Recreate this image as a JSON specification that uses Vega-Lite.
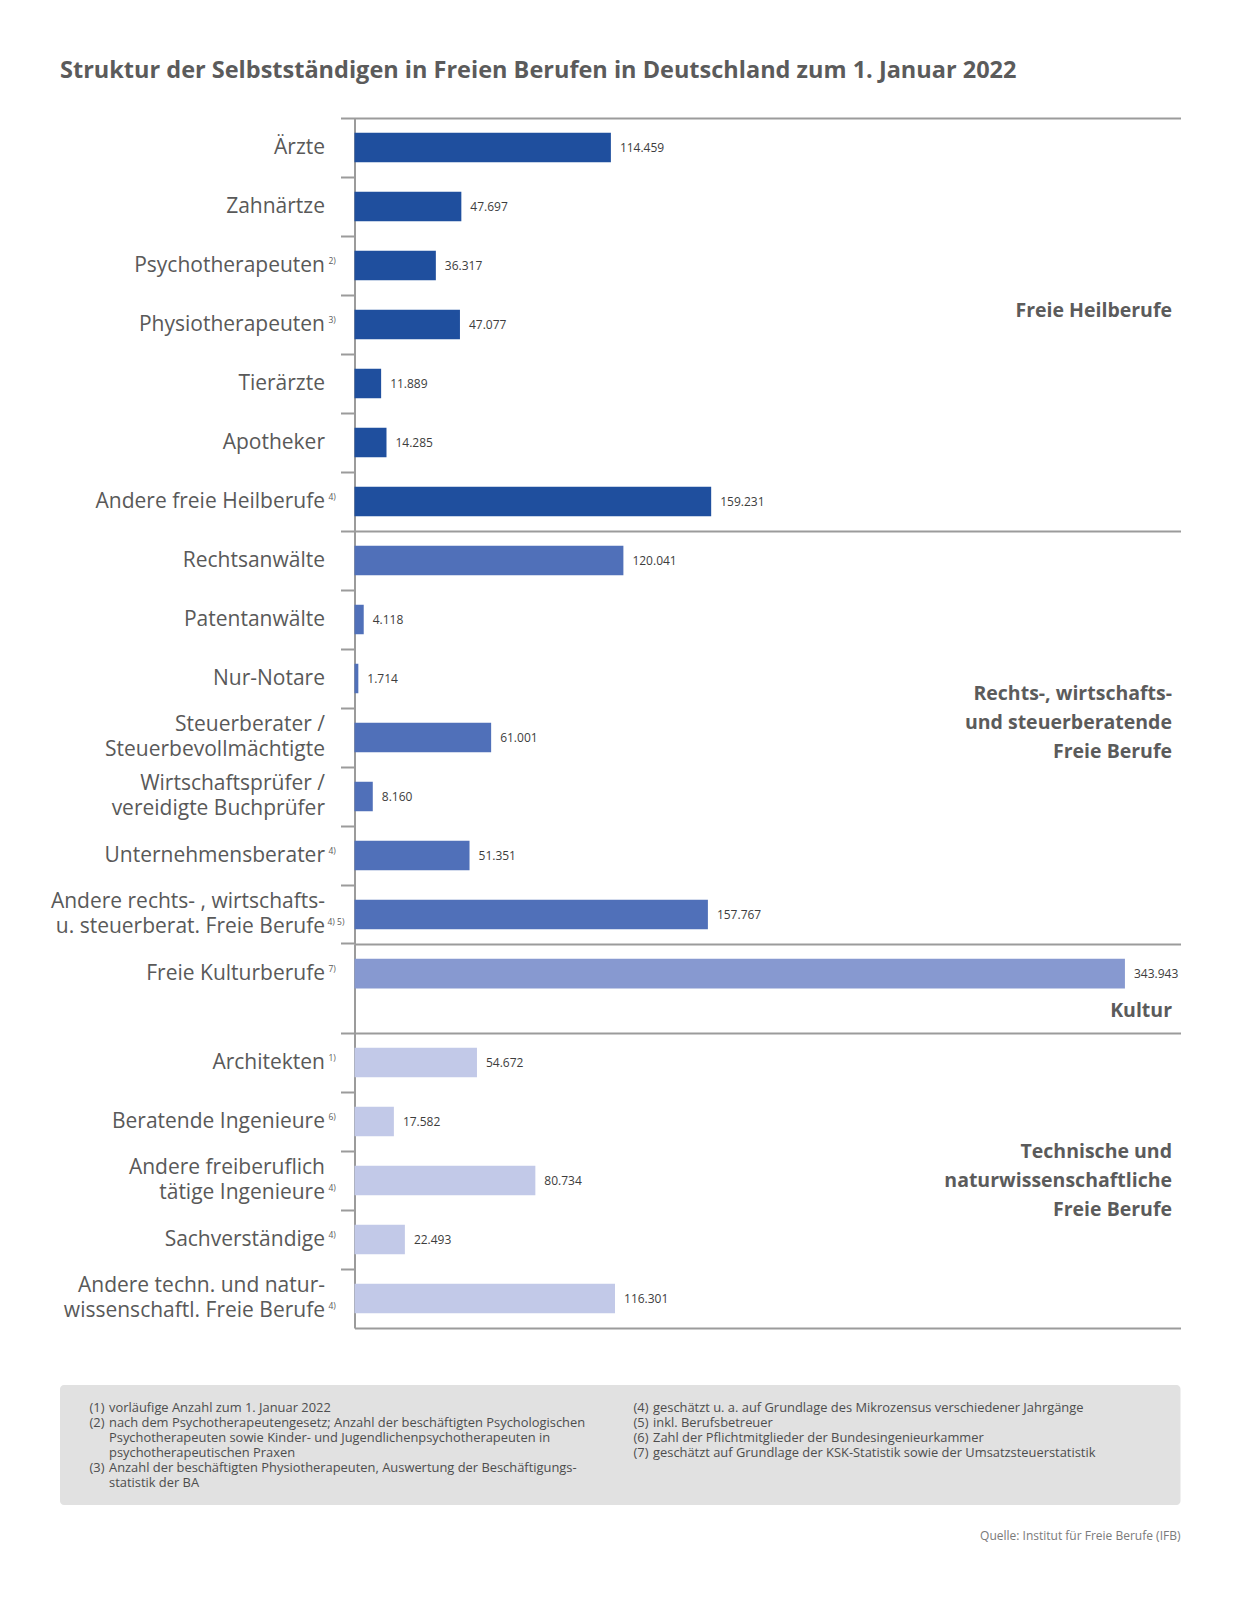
{
  "$schema": "https://vega.github.io/schema/vega-lite/v6.json",
  "padding": {"left": 50, "top": 58, "right": 20, "bottom": 20},
  "background": "white",
  "config": {
    "font": "Open Sans",
    "locale": {"number": {"decimal": ",", "thousands": ".", "grouping": [3], "currency": ["", " €"]}},
    "view": {"stroke": null},
    "axisX": {"domainColor": "#9b9b9b", "domainWidth": 2, "ticks": false, "labels": false, "grid": false}
  },
  "title": {"text": "Struktur der Selbstständigen in Freien Berufen in Deutschland zum 1. Januar 2022", "anchor": "start", "frame": "group", "font": "Open Sans", "fontSize": 23.5, "fontWeight": "bold", "color": "#5b5b5b", "offset": 35},
  "datasets": {
    "berufe": [
      {"gruppe": "Heil", "beruf": "Ärzte", "wert": 114459, "fn": "", "gruppenlabel": ""},
      {"gruppe": "Heil", "beruf": "Zahnärtze", "wert": 47697, "fn": "", "gruppenlabel": ""},
      {"gruppe": "Heil", "beruf": "Psychotherapeuten", "wert": 36317, "fn": "2)", "gruppenlabel": ""},
      {"gruppe": "Heil", "beruf": "Physiotherapeuten", "wert": 47077, "fn": "3)", "gruppenlabel": "Freie Heilberufe"},
      {"gruppe": "Heil", "beruf": "Tierärzte", "wert": 11889, "fn": "", "gruppenlabel": ""},
      {"gruppe": "Heil", "beruf": "Apotheker", "wert": 14285, "fn": "", "gruppenlabel": ""},
      {"gruppe": "Heil", "beruf": "Andere freie Heilberufe", "wert": 159231, "fn": "4)", "gruppenlabel": ""},
      {"gruppe": "Rechts", "beruf": "Rechtsanwälte", "wert": 120041, "fn": "", "gruppenlabel": ""},
      {"gruppe": "Rechts", "beruf": "Patentanwälte", "wert": 4118, "fn": "", "gruppenlabel": ""},
      {"gruppe": "Rechts", "beruf": "Nur-Notare", "wert": 1714, "fn": "", "gruppenlabel": ""},
      {"gruppe": "Rechts", "beruf": "Steuerberater /|Steuerbevollmächtigte", "wert": 61001, "fn": "", "gruppenlabel": "Rechts-, wirtschafts-|und steuerberatende|Freie Berufe"},
      {"gruppe": "Rechts", "beruf": "Wirtschaftsprüfer /|vereidigte Buchprüfer", "wert": 8160, "fn": "", "gruppenlabel": ""},
      {"gruppe": "Rechts", "beruf": "Unternehmensberater", "wert": 51351, "fn": "4)", "gruppenlabel": ""},
      {"gruppe": "Rechts", "beruf": "Andere rechts- , wirtschafts-|u. steuerberat. Freie Berufe", "wert": 157767, "fn": "4) 5)", "gruppenlabel": ""},
      {"gruppe": "Kultur", "beruf": "Freie Kulturberufe", "wert": 343943, "fn": "7)", "gruppenlabel": "Kultur"},
      {"gruppe": "Technik", "beruf": "Architekten", "wert": 54672, "fn": "1)", "gruppenlabel": ""},
      {"gruppe": "Technik", "beruf": "Beratende Ingenieure", "wert": 17582, "fn": "6)", "gruppenlabel": ""},
      {"gruppe": "Technik", "beruf": "Andere freiberuflich|tätige Ingenieure", "wert": 80734, "fn": "4)", "gruppenlabel": "Technische und|naturwissenschaftliche|Freie Berufe"},
      {"gruppe": "Technik", "beruf": "Sachverständige", "wert": 22493, "fn": "4)", "gruppenlabel": ""},
      {"gruppe": "Technik", "beruf": "Andere techn. und natur-|wissenschaftl. Freie Berufe", "wert": 116301, "fn": "4)", "gruppenlabel": ""}
    ],
    "fussnoten": [
      {"spalte": "L", "zeile": 1, "nr": "(1)", "text": "vorläufige Anzahl zum 1. Januar 2022"},
      {"spalte": "L", "zeile": 2, "nr": "(2)", "text": "nach dem Psychotherapeutengesetz; Anzahl der beschäftigten Psychologischen"},
      {"spalte": "L", "zeile": 3, "nr": "", "text": "Psychotherapeuten sowie Kinder- und Jugendlichenpsychotherapeuten in"},
      {"spalte": "L", "zeile": 4, "nr": "", "text": "psychotherapeutischen Praxen"},
      {"spalte": "L", "zeile": 5, "nr": "(3)", "text": "Anzahl der beschäftigten Physiotherapeuten, Auswertung der Beschäftigungs-"},
      {"spalte": "L", "zeile": 6, "nr": "", "text": "statistik der BA"},
      {"spalte": "R", "zeile": 1, "nr": "(4)", "text": "geschätzt u. a. auf Grundlage des Mikrozensus verschiedener Jahrgänge"},
      {"spalte": "R", "zeile": 2, "nr": "(5)", "text": "inkl. Berufsbetreuer"},
      {"spalte": "R", "zeile": 3, "nr": "(6)", "text": "Zahl der Pflichtmitglieder der Bundesingenieurkammer"},
      {"spalte": "R", "zeile": 4, "nr": "(7)", "text": "geschätzt auf Grundlage der KSK-Statistik sowie der Umsatzsteuerstatistik"}
    ]
  },
  "spacing": 57,
  "vconcat": [
    {
      "spacing": 0,
      "bounds": "flush",
      "vconcat": [
        {
          "width": 1120.5, "height": 413,
          "data": {"name": "berufe"},
          "transform": [{"filter": "datum.gruppe === 'Heil'"}],
          "encoding": {
            "y": {"field": "beruf", "type": "nominal", "sort": null, "title": null,
              "scale": {"paddingInner": 0.5, "paddingOuter": 0.25, "align": 0.5},
              "axis": {"domain": true, "domainColor": "#9b9b9b", "domainWidth": 2, "ticks": true, "tickColor": "#9b9b9b", "tickWidth": 2, "tickSize": 14, "bandPosition": -0.5, "offset": -294.5, "labelPadding": 16, "labelFontSize": 21, "labelColor": "#595959", "labelFont": "Open Sans", "labelLimit": 400, "labelLineHeight": 25, "labelExpr": "split(datum.label, '|')", "labelOffset": {"condition": {"test": "indexof(datum.value, '|') >= 0", "value": -12.5}, "value": 0}, "grid": false}},
            "x": {"field": "wert", "type": "quantitative", "title": null,
              "scale": {"domain": [0, 368750], "range": [294.5, 1120.5], "nice": false, "zero": true},
              "axis": {"orient": "top"}}
          },
          "layer": [
            {"mark": {"type": "bar", "color": "#1f4f9e"}},
            {"mark": {"type": "text", "align": "left", "baseline": "middle", "dx": 9, "fontSize": 12, "color": "#3d3d3d"}, "encoding": {"text": {"field": "wert", "format": ",d"}}},
            {"transform": [{"filter": "datum.fn !== '' && indexof(datum.beruf, '|') < 0"}], "mark": {"type": "text", "align": "left", "baseline": "middle", "dx": -26, "dy": -5, "fontSize": 8.5, "color": "#595959"}, "encoding": {"x": {"datum": 0}, "text": {"field": "fn"}}},
            {"transform": [{"filter": "datum.gruppenlabel !== ''"}], "mark": {"type": "text", "align": "right", "baseline": "middle", "dx": -8.5, "dy": -14, "fontSize": 19.5, "fontWeight": "bold", "color": "#5b5b5b", "lineBreak": "|", "lineHeight": 29}, "encoding": {"x": {"datum": 368750}, "text": {"field": "gruppenlabel"}}}
          ]
        },
        {
          "width": 1120.5, "height": 413,
          "data": {"name": "berufe"},
          "transform": [{"filter": "datum.gruppe === 'Rechts'"}],
          "encoding": {
            "y": {"field": "beruf", "type": "nominal", "sort": null, "title": null,
              "scale": {"paddingInner": 0.5, "paddingOuter": 0.25, "align": 0.5},
              "axis": {"domain": true, "domainColor": "#9b9b9b", "domainWidth": 2, "ticks": true, "tickColor": "#9b9b9b", "tickWidth": 2, "tickSize": 14, "bandPosition": -0.5, "offset": -294.5, "labelPadding": 16, "labelFontSize": 21, "labelColor": "#595959", "labelFont": "Open Sans", "labelLimit": 400, "labelLineHeight": 25, "labelExpr": "split(datum.label, '|')", "labelOffset": {"condition": {"test": "indexof(datum.value, '|') >= 0", "value": -12.5}, "value": 0}, "grid": false}},
            "x": {"field": "wert", "type": "quantitative", "title": null,
              "scale": {"domain": [0, 368750], "range": [294.5, 1120.5], "nice": false, "zero": true},
              "axis": {"orient": "top"}}
          },
          "layer": [
            {"mark": {"type": "bar", "color": "#5070b9"}},
            {"mark": {"type": "text", "align": "left", "baseline": "middle", "dx": 9, "fontSize": 12, "color": "#3d3d3d"}, "encoding": {"text": {"field": "wert", "format": ",d"}}},
            {"transform": [{"filter": "datum.fn !== '' && indexof(datum.beruf, '|') < 0"}], "mark": {"type": "text", "align": "left", "baseline": "middle", "dx": -26, "dy": -5, "fontSize": 8.5, "color": "#595959"}, "encoding": {"x": {"datum": 0}, "text": {"field": "fn"}}},
            {"transform": [{"filter": "datum.fn !== '' && indexof(datum.beruf, '|') >= 0"}], "mark": {"type": "text", "align": "left", "baseline": "middle", "dx": -27, "dy": 7, "fontSize": 8.5, "color": "#595959"}, "encoding": {"x": {"datum": 0}, "text": {"field": "fn"}}},
            {"transform": [{"filter": "datum.gruppenlabel !== ''"}], "mark": {"type": "text", "align": "right", "baseline": "middle", "dx": -8.5, "dy": -44, "fontSize": 19.5, "fontWeight": "bold", "color": "#5b5b5b", "lineBreak": "|", "lineHeight": 29}, "encoding": {"x": {"datum": 368750}, "text": {"field": "gruppenlabel"}}}
          ]
        },
        {
          "width": 1120.5, "height": 89,
          "data": {"name": "berufe"},
          "transform": [{"filter": "datum.gruppe === 'Kultur'"}],
          "encoding": {
            "y": {"field": "beruf", "type": "nominal", "sort": null, "title": null,
              "scale": {"paddingInner": 0.5, "paddingOuter": 0.5, "align": 0.25},
              "axis": {"domain": true, "domainColor": "#9b9b9b", "domainWidth": 2, "ticks": true, "tickColor": "#9b9b9b", "tickWidth": 2, "tickSize": 14, "bandPosition": -0.5, "offset": -294.5, "labelPadding": 16, "labelFontSize": 21, "labelColor": "#595959", "labelFont": "Open Sans", "labelLimit": 400, "labelLineHeight": 25, "labelExpr": "split(datum.label, '|')", "grid": false}},
            "x": {"field": "wert", "type": "quantitative", "title": null,
              "scale": {"domain": [0, 368750], "range": [294.5, 1120.5], "nice": false, "zero": true},
              "axis": {"orient": "top"}}
          },
          "layer": [
            {"mark": {"type": "bar", "color": "#8799d0"}},
            {"mark": {"type": "text", "align": "left", "baseline": "middle", "dx": 9, "fontSize": 12, "color": "#3d3d3d"}, "encoding": {"text": {"field": "wert", "format": ",d"}}},
            {"transform": [{"filter": "datum.fn !== '' && indexof(datum.beruf, '|') < 0"}], "mark": {"type": "text", "align": "left", "baseline": "middle", "dx": -26, "dy": -5, "fontSize": 8.5, "color": "#595959"}, "encoding": {"x": {"datum": 0}, "text": {"field": "fn"}}},
            {"transform": [{"filter": "datum.gruppenlabel !== ''"}], "mark": {"type": "text", "align": "right", "baseline": "middle", "dx": -8.5, "dy": 37, "fontSize": 19.5, "fontWeight": "bold", "color": "#5b5b5b", "lineBreak": "|", "lineHeight": 29}, "encoding": {"x": {"datum": 368750}, "text": {"field": "gruppenlabel"}}}
          ]
        },
        {
          "width": 1120.5, "height": 295,
          "data": {"name": "berufe"},
          "transform": [{"filter": "datum.gruppe === 'Technik'"}],
          "resolve": {"axis": {"x": "independent"}},
          "encoding": {
            "y": {"field": "beruf", "type": "nominal", "sort": null, "title": null,
              "scale": {"paddingInner": 0.5, "paddingOuter": 0.25, "align": 0.5},
              "axis": {"domain": true, "domainColor": "#9b9b9b", "domainWidth": 2, "ticks": true, "tickColor": "#9b9b9b", "tickWidth": 2, "tickSize": 14, "bandPosition": -0.5, "offset": -294.5, "labelPadding": 16, "labelFontSize": 21, "labelColor": "#595959", "labelFont": "Open Sans", "labelLimit": 400, "labelLineHeight": 25, "labelExpr": "split(datum.label, '|')", "labelOffset": {"condition": {"test": "indexof(datum.value, '|') >= 0", "value": -12.5}, "value": 0}, "grid": false}},
            "x": {"field": "wert", "type": "quantitative", "title": null,
              "scale": {"domain": [0, 368750], "range": [294.5, 1120.5], "nice": false, "zero": true}}
          },
          "layer": [
            {"mark": {"type": "bar", "color": "#c2c9e8"}, "encoding": {"x": {"field": "wert", "type": "quantitative", "title": null, "axis": {"orient": "top"}}}},
            {"mark": {"type": "text", "align": "left", "baseline": "middle", "dx": 9, "fontSize": 12, "color": "#3d3d3d"}, "encoding": {"x": {"field": "wert", "type": "quantitative", "title": null, "axis": {"orient": "bottom"}}, "text": {"field": "wert", "format": ",d"}}},
            {"transform": [{"filter": "datum.fn !== '' && indexof(datum.beruf, '|') < 0"}], "mark": {"type": "text", "align": "left", "baseline": "middle", "dx": -26, "dy": -5, "fontSize": 8.5, "color": "#595959"}, "encoding": {"x": {"datum": 0, "axis": null}, "text": {"field": "fn"}}},
            {"transform": [{"filter": "datum.fn !== '' && indexof(datum.beruf, '|') >= 0"}], "mark": {"type": "text", "align": "left", "baseline": "middle", "dx": -26, "dy": 7, "fontSize": 8.5, "color": "#595959"}, "encoding": {"x": {"datum": 0, "axis": null}, "text": {"field": "fn"}}},
            {"transform": [{"filter": "datum.gruppenlabel !== ''"}], "mark": {"type": "text", "align": "right", "baseline": "middle", "dx": -8.5, "dy": -29, "fontSize": 19.5, "fontWeight": "bold", "color": "#5b5b5b", "lineBreak": "|", "lineHeight": 29}, "encoding": {"x": {"datum": 368750, "axis": null}, "text": {"field": "gruppenlabel"}}}
          ]
        }
      ]
    },
    {
      "width": 1120.5, "height": 120,
      "view": {"fill": "#e1e1e1", "stroke": null, "cornerRadius": 4},
      "data": {"name": "fussnoten"},
      "title": {"text": "Quelle: Institut für Freie Berufe (IFB)", "orient": "bottom", "anchor": "end", "frame": "group", "fontSize": 12, "fontWeight": "normal", "color": "#7a7a7a", "offset": 26},
      "encoding": {
        "x": {"field": "spalte", "type": "nominal", "scale": {"type": "point", "domain": ["L", "R"], "range": [29.5, 573.5], "padding": 0}, "axis": null},
        "y": {"field": "zeile", "type": "ordinal", "scale": {"type": "band", "paddingInner": 0, "paddingOuter": 1.03}, "axis": null}
      },
      "layer": [
        {"mark": {"type": "text", "align": "left", "baseline": "middle", "fontSize": 12.9, "color": "#4d4d4d"}, "encoding": {"text": {"field": "nr"}}},
        {"mark": {"type": "text", "align": "left", "baseline": "middle", "dx": 19.5, "fontSize": 12.9, "color": "#4d4d4d"}, "encoding": {"text": {"field": "text"}}}
      ]
    }
  ]
}
